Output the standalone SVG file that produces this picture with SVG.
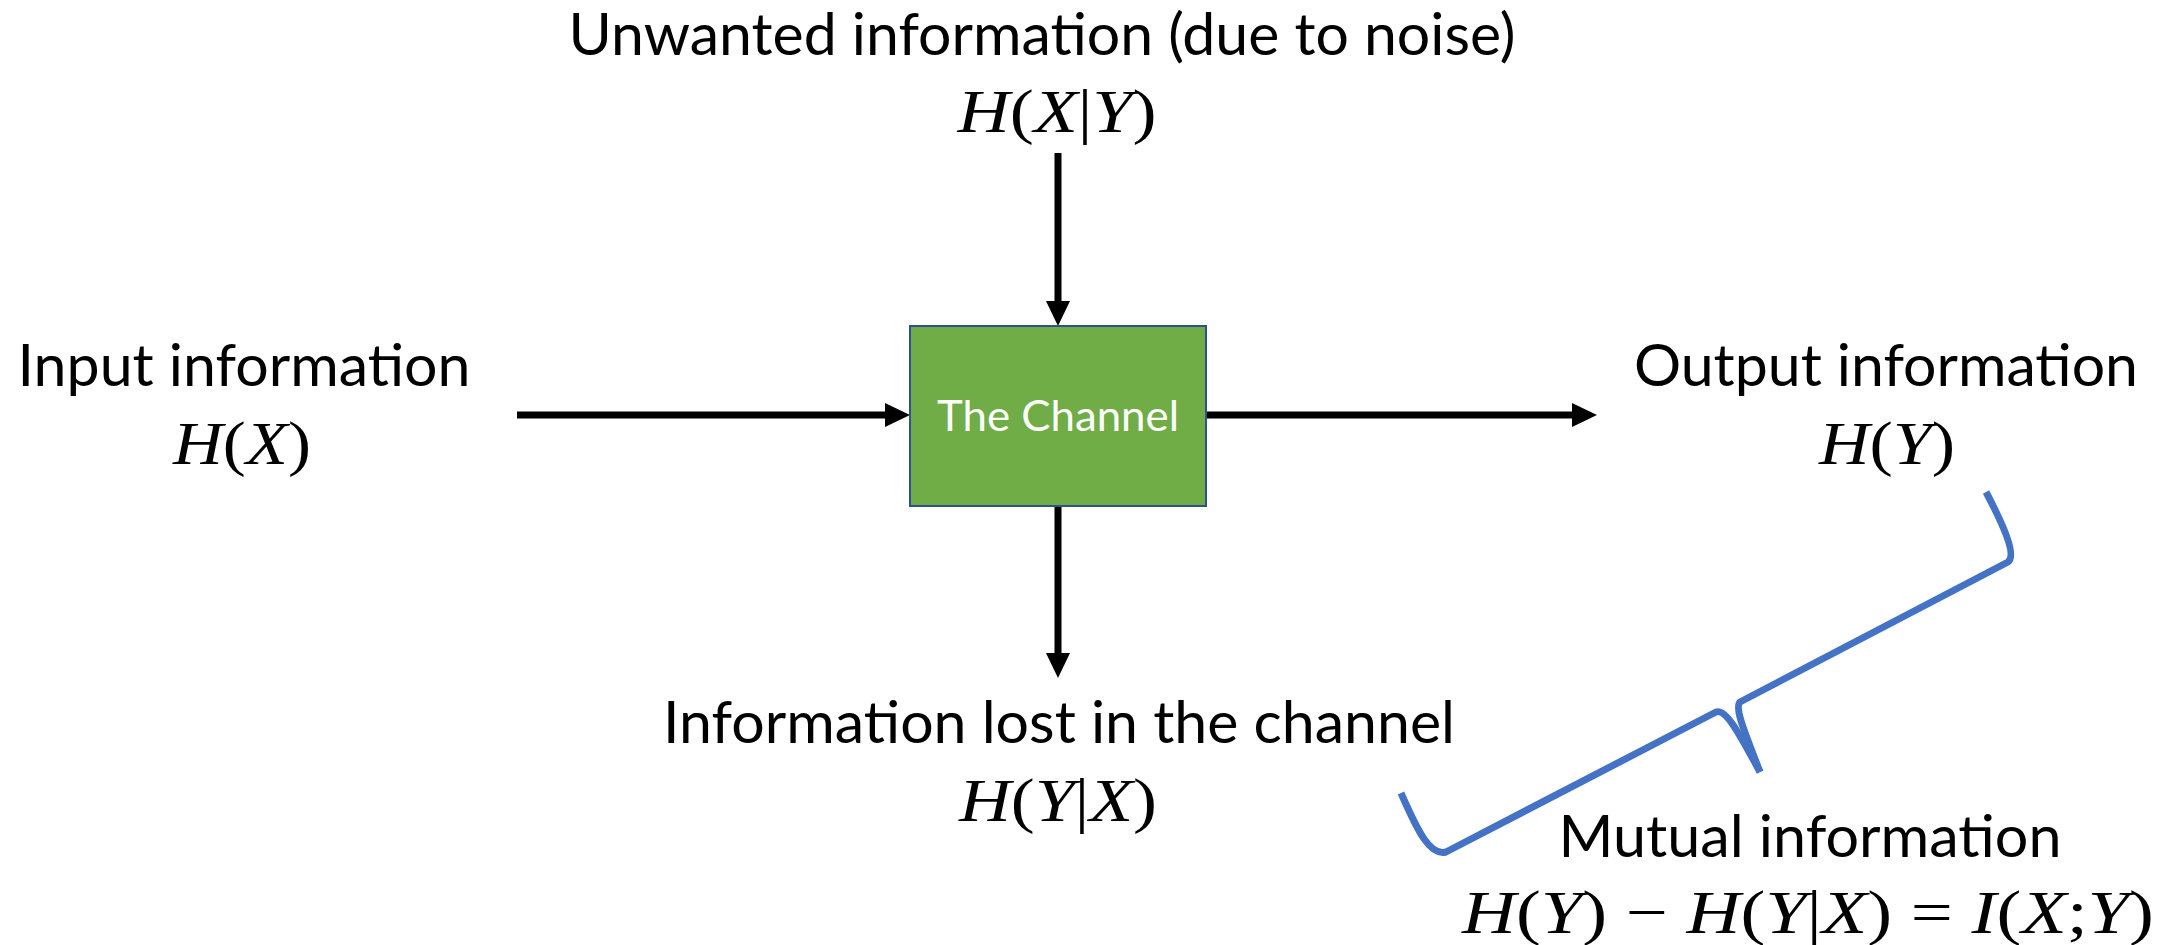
<svg xmlns="http://www.w3.org/2000/svg" width="2177" height="945" viewBox="0 0 2177 945">
  <style>
    .lbl { font-family: Lato, "Open Sans", "Liberation Sans", sans-serif; font-size: 58px; fill: #000; text-anchor: middle; }
    .math { font-family: "Liberation Serif", "DejaVu Serif", serif; font-size: 62px; fill: #000; text-anchor: middle; }
    .v { font-style: italic; }
    .conn { stroke: #000; stroke-width: 7; fill: none; marker-end: url(#arrow); }
    .brace { stroke: #4472C4; stroke-width: 7; fill: none; stroke-linejoin: round; stroke-linecap: butt; }
  </style>
  <defs>
    <marker id="arrow" markerUnits="userSpaceOnUse" markerWidth="26" markerHeight="26" refX="0" refY="13" orient="auto">
      <path d="M0,1 L25,13 L0,25 z" fill="#000"/>
    </marker>
  </defs>
  <rect width="2177" height="945" fill="#fff"/>

  <!-- connectors -->
  <g id="connectors">
    <line class="conn" x1="1058" y1="153" x2="1058" y2="301"/>
    <line class="conn" x1="517" y1="415" x2="885" y2="415"/>
    <line class="conn" x1="1206" y1="415" x2="1572" y2="415"/>
    <line class="conn" x1="1058" y1="506" x2="1058" y2="653"/>
  </g>

  <g id="channel">
    <rect x="910" y="326" width="296" height="180" fill="#70AD47" stroke="#2F528F" stroke-width="2"/>
    <text x="1058" y="431" font-family="Lato, 'Open Sans', 'Liberation Sans', sans-serif" font-size="43" fill="#fff" text-anchor="middle" textLength="242" lengthAdjust="spacingAndGlyphs">The Channel</text>
  </g>

  <g id="noise">
    <text class="lbl" x="1042" y="55" font-size="56" textLength="947" lengthAdjust="spacingAndGlyphs">Unwanted information (due to noise)</text>
    <text class="math" x="1057" y="132" textLength="199" lengthAdjust="spacingAndGlyphs"><tspan class="v">H</tspan>(<tspan class="v">X</tspan>|<tspan class="v">Y</tspan>)</text>
  </g>

  <g id="input">
    <text class="lbl" x="244" y="386" textLength="453" lengthAdjust="spacingAndGlyphs">Input information</text>
    <text class="math" x="242" y="464" textLength="138" lengthAdjust="spacingAndGlyphs"><tspan class="v">H</tspan>(<tspan class="v">X</tspan>)</text>
  </g>

  <g id="output">
    <text class="lbl" x="1886" y="386" textLength="504" lengthAdjust="spacingAndGlyphs">Output information</text>
    <text class="math" x="1887" y="464" textLength="136" lengthAdjust="spacingAndGlyphs"><tspan class="v">H</tspan>(<tspan class="v">Y</tspan>)</text>
  </g>

  <g id="lost">
    <text class="lbl" x="1059" y="743" textLength="792" lengthAdjust="spacingAndGlyphs">Information lost in the channel</text>
    <text class="math" x="1058" y="821" textLength="198" lengthAdjust="spacingAndGlyphs"><tspan class="v">H</tspan>(<tspan class="v">Y</tspan>|<tspan class="v">X</tspan>)</text>
  </g>

  <g id="mutual">
    <path class="brace" d="M1401,793 C1418,832 1430,856 1446,852 L1716,712 C1726,708 1740,735 1760,772"/>
    <path class="brace" d="M1760,772 C1746,735 1734,708 1740,702 L2008,562 C2016,556 2006,530 1986,492"/>
    <text class="lbl" x="1810" y="857" textLength="503" lengthAdjust="spacingAndGlyphs">Mutual information</text>
    <text class="math" x="1808" y="933" textLength="692" lengthAdjust="spacingAndGlyphs"><tspan class="v">H</tspan>(<tspan class="v">Y</tspan>) − <tspan class="v">H</tspan>(<tspan class="v">Y</tspan>|<tspan class="v">X</tspan>) = <tspan class="v">I</tspan>(<tspan class="v">X</tspan>;<tspan class="v">Y</tspan>)</text>
  </g>
</svg>
